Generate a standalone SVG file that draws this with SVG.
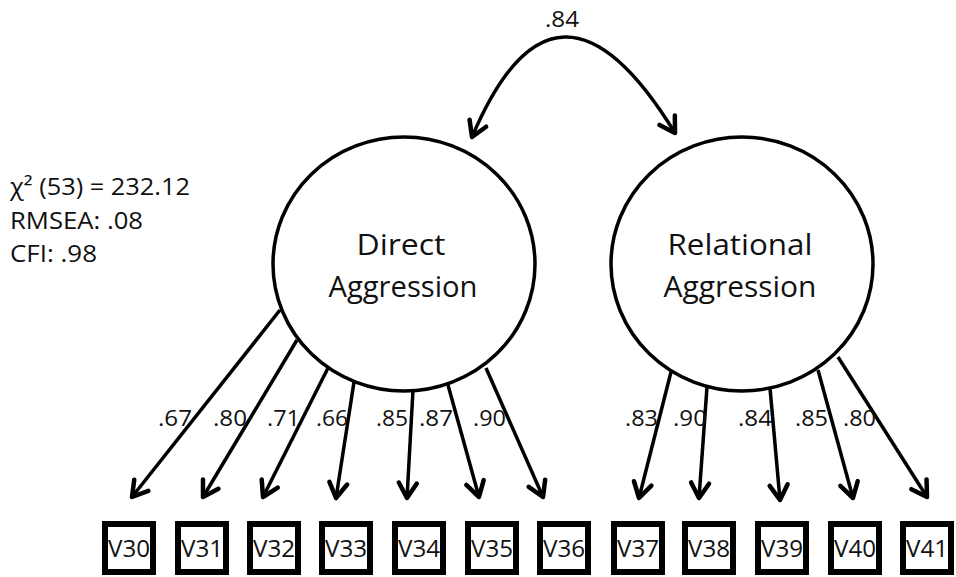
<svg xmlns="http://www.w3.org/2000/svg" width="956" height="577" viewBox="0 0 956 577">
<style>
text{font-family:"Open Sans","Liberation Sans",sans-serif;fill:#111;}
.lat{fill:#fff;stroke:#000;stroke-width:3.5;}
.box{fill:#fff;stroke:#000;stroke-width:6;}
.bt{font-size:23px;text-anchor:middle;}
.lt{font-size:29px;text-anchor:middle;}
.ld{font-size:22px;}
.fit{font-size:23px;}
.arr{fill:none;stroke:#000;stroke-width:3.5;marker-end:url(#ah);}
</style>
<defs>
<marker id="ah" markerUnits="userSpaceOnUse" viewBox="-18 -12 20 24" markerWidth="20" markerHeight="24" refX="0" refY="0" orient="auto-start-reverse" overflow="visible">
<path d="M-15,-9 L0,0 L-15,9" fill="none" stroke="#000" stroke-width="4.5" stroke-linejoin="round" stroke-linecap="round"/>
</marker>
</defs>
<rect width="956" height="577" fill="#fff"/>
<g id="fit">
<text class="fit" x="10" y="195" textLength="180" lengthAdjust="spacingAndGlyphs">χ² (53) = 232.12</text>
<text class="fit" x="10" y="229" textLength="133" lengthAdjust="spacingAndGlyphs">RMSEA: .08</text>
<text class="fit" x="10" y="262" textLength="87" lengthAdjust="spacingAndGlyphs">CFI: .98</text>
</g>
<g id="connectors">
<path class="arr" d="M472,137 Q556,-61 675,133" marker-start="url(#ah)"/>
<line class="arr" x1="280" y1="310" x2="132" y2="497"/>
<line class="arr" x1="297" y1="340" x2="203" y2="497"/>
<line class="arr" x1="328" y1="368" x2="263" y2="497"/>
<line class="arr" x1="354" y1="382" x2="336" y2="498"/>
<line class="arr" x1="413" y1="390" x2="407" y2="498"/>
<line class="arr" x1="448" y1="385" x2="479" y2="497"/>
<line class="arr" x1="486" y1="368" x2="543" y2="497"/>
<line class="arr" x1="671" y1="372" x2="639" y2="498"/>
<line class="arr" x1="707" y1="387" x2="699" y2="498"/>
<line class="arr" x1="770" y1="388" x2="780" y2="500"/>
<line class="arr" x1="818" y1="370" x2="853" y2="498"/>
<line class="arr" x1="838" y1="357" x2="927" y2="497"/>
</g>
<g id="labels">
<text class="ld" x="545" y="27" textLength="34" lengthAdjust="spacingAndGlyphs">.84</text>
<text class="ld" x="158" y="426" textLength="34" lengthAdjust="spacingAndGlyphs">.67</text>
<text class="ld" x="213" y="426" textLength="34" lengthAdjust="spacingAndGlyphs">.80</text>
<text class="ld" x="267" y="426" textLength="33" lengthAdjust="spacingAndGlyphs">.71</text>
<text class="ld" x="316" y="426" textLength="32" lengthAdjust="spacingAndGlyphs">.66</text>
<text class="ld" x="376" y="426" textLength="32" lengthAdjust="spacingAndGlyphs">.85</text>
<text class="ld" x="419" y="426" textLength="34" lengthAdjust="spacingAndGlyphs">.87</text>
<text class="ld" x="473" y="426" textLength="33" lengthAdjust="spacingAndGlyphs">.90</text>
<text class="ld" x="625" y="426" textLength="33" lengthAdjust="spacingAndGlyphs">.83</text>
<text class="ld" x="673" y="426" textLength="34" lengthAdjust="spacingAndGlyphs">.90</text>
<text class="ld" x="738" y="426" textLength="34" lengthAdjust="spacingAndGlyphs">.84</text>
<text class="ld" x="795" y="426" textLength="33" lengthAdjust="spacingAndGlyphs">.85</text>
<text class="ld" x="843" y="426" textLength="33" lengthAdjust="spacingAndGlyphs">.80</text>
</g>
<g id="direct">
<ellipse class="lat" cx="404" cy="264" rx="131" ry="127"/>
<text class="lt" x="401" y="255" textLength="89" lengthAdjust="spacingAndGlyphs">Direct</text>
<text class="lt" x="403" y="297" textLength="149" lengthAdjust="spacingAndGlyphs">Aggression</text>
</g>
<g id="relational">
<ellipse class="lat" cx="742" cy="264" rx="131" ry="127"/>
<text class="lt" x="740" y="255" textLength="145" lengthAdjust="spacingAndGlyphs">Relational</text>
<text class="lt" x="740" y="297" textLength="153" lengthAdjust="spacingAndGlyphs">Aggression</text>
</g>
<g id="V30"><rect class="box" x="105" y="524" width="48" height="48"/><text class="bt" x="129" y="557" textLength="42" lengthAdjust="spacingAndGlyphs">V30</text></g>
<g id="V31"><rect class="box" x="178" y="524" width="48" height="48"/><text class="bt" x="202" y="557" textLength="42" lengthAdjust="spacingAndGlyphs">V31</text></g>
<g id="V32"><rect class="box" x="250" y="524" width="48" height="48"/><text class="bt" x="274" y="557" textLength="42" lengthAdjust="spacingAndGlyphs">V32</text></g>
<g id="V33"><rect class="box" x="322" y="524" width="48" height="48"/><text class="bt" x="346" y="557" textLength="42" lengthAdjust="spacingAndGlyphs">V33</text></g>
<g id="V34"><rect class="box" x="395" y="524" width="48" height="48"/><text class="bt" x="419" y="557" textLength="42" lengthAdjust="spacingAndGlyphs">V34</text></g>
<g id="V35"><rect class="box" x="468" y="524" width="48" height="48"/><text class="bt" x="492" y="557" textLength="42" lengthAdjust="spacingAndGlyphs">V35</text></g>
<g id="V36"><rect class="box" x="540" y="524" width="48" height="48"/><text class="bt" x="564" y="557" textLength="42" lengthAdjust="spacingAndGlyphs">V36</text></g>
<g id="V37"><rect class="box" x="614" y="524" width="48" height="48"/><text class="bt" x="638" y="557" textLength="42" lengthAdjust="spacingAndGlyphs">V37</text></g>
<g id="V38"><rect class="box" x="685" y="524" width="48" height="48"/><text class="bt" x="709" y="557" textLength="42" lengthAdjust="spacingAndGlyphs">V38</text></g>
<g id="V39"><rect class="box" x="758" y="524" width="48" height="48"/><text class="bt" x="782" y="557" textLength="42" lengthAdjust="spacingAndGlyphs">V39</text></g>
<g id="V40"><rect class="box" x="831" y="524" width="48" height="48"/><text class="bt" x="855" y="557" textLength="42" lengthAdjust="spacingAndGlyphs">V40</text></g>
<g id="V41"><rect class="box" x="903" y="524" width="48" height="48"/><text class="bt" x="927" y="557" textLength="42" lengthAdjust="spacingAndGlyphs">V41</text></g>
</svg>
